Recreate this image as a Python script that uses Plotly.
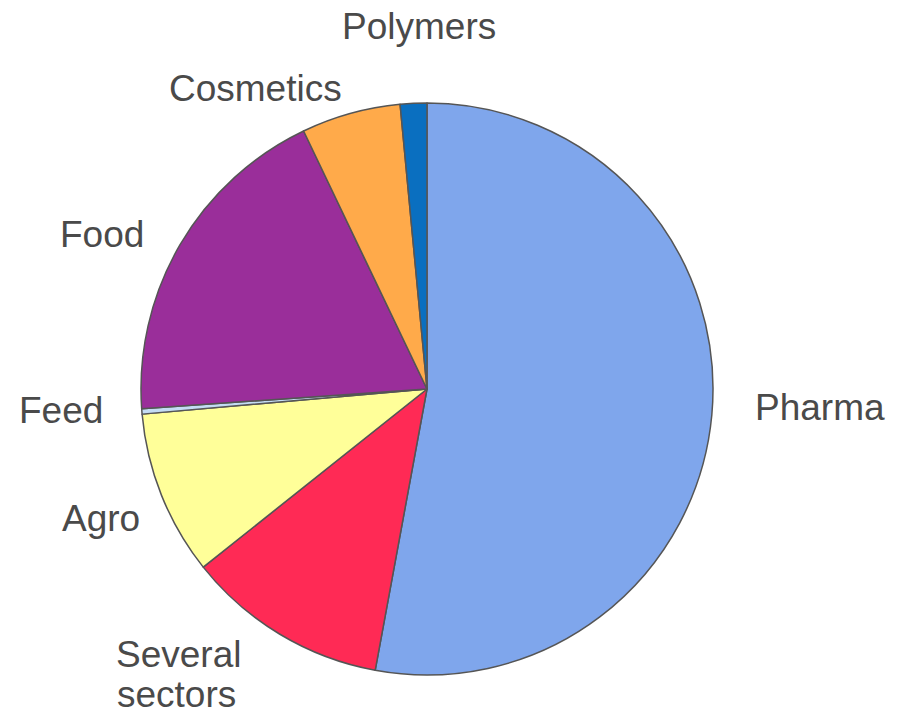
import plotly.graph_objects as go

labels = ["Pharma", "Several sectors", "Agro", "Feed", "Food", "Cosmetics", "Polymers"]
values = [52.9, 11.4, 9.3, 0.3, 19.0, 5.6, 1.5]
colors = ["#7fa6ec", "#ff2a55", "#ffff99", "#c4dcf4", "#9a2e9a", "#ffaa4a", "#0a6fc0"]

W, H = 903, 715
# label lines and their centre positions in pixels
label_text = ["Pharma", "Several", "sectors", "Agro", "Feed", "Food", "Cosmetics", "Polymers"]
label_px = [(820, 407), (178, 654), (176, 694), (101, 518), (61, 410), (102, 235), (255, 88), (419, 27)]

fig = go.Figure(go.Pie(
    labels=labels, values=values, sort=False, direction="clockwise", rotation=0,
    marker=dict(colors=colors, line=dict(color="#555555", width=1.5)),
    textinfo="none", hoverinfo="label+percent", showlegend=False,
    domain=dict(x=[141 / W, 713 / W], y=[1 - 675 / H, 1 - 103 / H]),
))

for t, (px, py) in zip(label_text, label_px):
    fig.add_annotation(x=px / W, y=1 - py / H, xref="paper", yref="paper", text=t,
                       showarrow=False, xanchor="center", yanchor="middle",
                       font=dict(family="Liberation Sans, Arial", size=37, color="#4a4a4a"))

fig.update_layout(width=W, height=H, margin=dict(l=0, r=0, t=0, b=0),
                  paper_bgcolor="white", plot_bgcolor="white")
fig.write_html("out.html")
